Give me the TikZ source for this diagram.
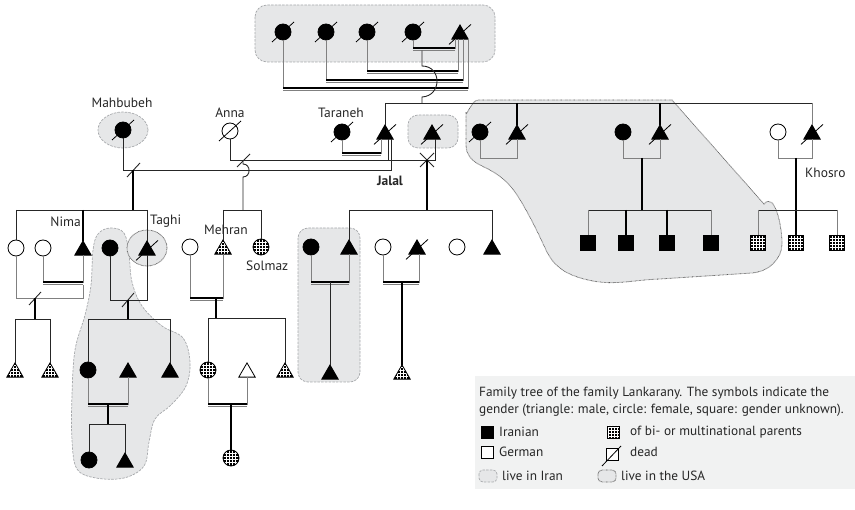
\documentclass[tikz,border=0pt]{standalone}
\usepackage{fontspec}
\setmainfont{PT Sans}
\usetikzlibrary{shapes.geometric,calc}
\definecolor{bgfill}{HTML}{E6E7E8}
\definecolor{bord}{HTML}{A7A9AC}
\definecolor{legbg}{HTML}{F1F2F2}
\begin{document}
\begin{tikzpicture}[x=1pt,y=-1pt,
  person/.style={draw=black,line width=0.8pt,inner sep=0pt,outer sep=0pt},
  fem/.style={person,circle,minimum size=16pt},
  mal/.style={person,regular polygon,regular polygon sides=3,minimum size=19pt,yshift=-2.4pt},
  unk/.style={person,rectangle,minimum size=15pt},
  blk/.style={fill=black},
  wht/.style={fill=white},
  mix/.style={fill=black,path picture={\foreach \d in {-4.8,-1.6,1.6,4.8}{
      \draw[white,line width=0.9pt] ($(path picture bounding box.center)+(\d,-12)$) -- ++(0,24);
      \draw[white,line width=0.9pt] ($(path picture bounding box.center)+(-12,\d)$) -- ++(24,0);}}},
  ln/.style={line width=0.9pt,draw=black!85},
  thk/.style={line width=1.8pt,draw=black},
  gln/.style={line width=0.9pt,draw=black!50},
  iran/.style={fill=bgfill,draw=bord,dash pattern=on 2.5pt off 1.2pt,line width=0.7pt},
  usa/.style={fill=bgfill,draw=black!65,dash pattern=on 0.6pt off 0.7pt,line width=0.8pt},
  lbl/.style={font=\fontsize{13.5}{15}\selectfont,inner sep=0pt,text=black!85},
  legtxt/.style={font=\fontsize{13.3}{15}\selectfont,inner sep=0pt,anchor=west,text=black!85},
]
\useasboundingbox (0,0) rectangle (855,510);
\newcommand\deadmark[1]{\draw[line width=0.8pt] ($(#1.center)+(-11,10)$) -- ($(#1.center)+(11,-10)$);}
\newcommand\cpl[5]{% A B y xA xB : double marriage line
  \draw[gln] (#4,0 |- #1.south) -- (#4,#3) -- (#5,#3) -- (#5,0 |- #2.south);
  \draw[thk] (#4,#3) -- (#5,#3);
  \draw[gln] (#4,#3+2.6) -- (#5,#3+2.6);}
\newcommand\scpl[5]{%
  \draw[gln] (#4,0 |- #1.south) -- (#4,#3) -- (#5,#3) -- (#5,0 |- #2.south);}

% ---------- background regions ----------
\draw[iran,rounded corners=12pt] (255,5) rectangle (495,62);
\draw[iran] (123,130) ellipse [x radius=25,y radius=18];
\draw[iran,rounded corners=10pt] (408,115) rectangle (458,148);
\draw[iran,rounded corners=10pt] (298,228) rectangle (360,382);
\draw[iran] plot[smooth cycle,tension=0.6] coordinates {(110,228) (124,233) (129,255) (132,282) (142,306) (162,326) (183,338) (190,362) (186,386) (171,405) (155,419) (149,442) (144,466) (124,478) (96,478) (77,469) (72,440) (72,395) (75,350) (85,315) (91,285) (93,250) (98,234)};
\draw[usa] (478,100) -- (672,100) -- (764,204) to[out=50,in=90] (782,243) to[out=-90,in=5] (752,273) -- (660,279) to[out=182,in=-15] (584,279) to[out=165,in=-65] (546,250) to[out=115,in=-60] (522,203) to[out=120,in=-25] (482,166) to[out=155,in=-90] (466,145) -- (466,112) to[out=-90,in=180] (478,100) -- cycle;
\draw[usa] (147,248) ellipse [x radius=20,y radius=18];

% ---------- persons ----------
\node[fem,blk] (g1) at (283,32) {};
\node[fem,blk] (g2) at (326,32) {};
\node[fem,blk] (g3) at (367,32) {};
\node[fem,blk] (g4) at (413,32) {};
\node[mal,blk] (G) at (460,32) {};

\node[fem,blk] (mah) at (123,130) {};
\node[fem,wht] (anna) at (230,131) {};
\node[fem,blk] (tar) at (342,132) {};
\node[mal,blk] (tm) at (385,132) {};
\node[mal,blk] (jal) at (432,132) {};
\node[fem,blk] (w1) at (480,132) {};
\node[mal,blk] (r1) at (517,132) {};
\node[fem,blk] (w2) at (623,132) {};
\node[mal,blk] (r2) at (660,132) {};
\node[fem,wht] (w3) at (778,132) {};
\node[mal,blk] (r3) at (812,132) {};

\node[fem,wht] (c1) at (16,248) {};
\node[fem,wht] (c2) at (43,248) {};
\node[mal,blk] (nima) at (83,248) {};
\node[fem,blk] (b1) at (110,248) {};
\node[mal,blk] (taghi) at (147,248) {};
\node[fem,wht] (f1) at (190,247) {};
\node[mal,mix] (mehran) at (223,247) {};
\node[fem,mix] (solmaz) at (261,247) {};
\node[fem,blk] (k1) at (311,247) {};
\node[mal,blk] (k2) at (349,247) {};
\node[fem,wht] (k3) at (383,247) {};
\node[mal,blk] (k4) at (417,247) {};
\node[fem,wht] (k5) at (457,247) {};
\node[mal,blk] (k6) at (492,247) {};
\node[unk,blk] (s1) at (588,243) {};
\node[unk,blk] (s2) at (626,243) {};
\node[unk,blk] (s3) at (667,243) {};
\node[unk,blk] (s4) at (711,243) {};
\node[unk,mix] (m1) at (758,243) {};
\node[unk,mix] (m2) at (796,243) {};
\node[unk,mix] (m3) at (837,243) {};

\node[mal,mix] (n1) at (15,370) {};
\node[mal,mix] (n2) at (50,370) {};
\node[fem,blk] (d1) at (88,370) {};
\node[mal,blk] (d2) at (128,370) {};
\node[mal,blk] (d3) at (170,370) {};
\node[fem,mix] (h1) at (208,370) {};
\node[mal,wht] (h2) at (247,370) {};
\node[mal,mix] (h3) at (285,370) {};
\node[mal,blk] (k7) at (330,372) {};
\node[mal,mix] (k8) at (402,372) {};
\node[fem,blk] (e1) at (89,460) {};
\node[mal,blk] (e2) at (125,460) {};
\node[fem,mix] (h4) at (231,458) {};

\foreach \p in {g1,g2,g3,g4,G,mah,anna,tar,tm,jal,w1,r1,r2,r3,taghi,k4} {\deadmark{\p}}

% ---------- labels ----------
\node[lbl] (lmah) at (122,103) {Mahbubeh};
\node[lbl] (lanna) at (230,113) {Anna};
\node[lbl] (ltar) at (341,113) {Taraneh};
\node[lbl,font=\fontsize{13.5}{15}\selectfont\bfseries] (ljal) at (390,181) {Jalal};
\node[lbl,anchor=west] (lkho) at (805,173) {Khosro};
\node[lbl,anchor=east] (lnima) at (81,222) {Nima};
\node[lbl,anchor=west] (ltaghi) at (150,221) {Taghi};
\node[lbl] (lmeh) at (226,230) {Mehran};
\node[lbl,anchor=west] (lsol) at (246,266) {Solmaz};

% ---------- connectors: top generation ----------
\cpl{g4}{G}{48}{413}{455}
\cpl{g3}{G}{71}{367}{458}
\cpl{g2}{G}{80}{326}{463}
\cpl{g1}{G}{88}{283}{468}
\draw[ln] (422,50.6) -- (422,66) .. controls (442,66) and (442,96) .. (422,97) -- (422,103);
\draw[ln] (385,103) -- (812,103);
\draw[ln] (385,103) -- (tm.north);
\draw[thk] (517,103) -- (r1.north);
\draw[thk] (660,103) -- (r2.north);
\draw[gln] (812,103) -- (r3.north);

% ---------- second generation marriages ----------
\cpl{tar}{tm}{153}{342}{381}
\draw[ln] (anna.south) -- (230,160) -- (435,160) -- (435,0 |- jal.south);
\draw[ln] (388,0 |- tm.south) -- (388,160);
\draw[ln] (mah.south) -- (123,170) -- (391,170) -- (391,0 |- tm.south);
\draw[ln] (127,177) -- (140,163);
\draw[ln] (237,167) -- (250,154);
\draw[ln] (420,153) -- (434,167) (420,167) -- (434,153);
\scpl{w1}{r1}{158}{480}{517}
\scpl{w2}{r2}{158}{623}{660}
\scpl{w3}{r3}{158}{778}{812}

% ---------- descent lines ----------
\draw[thk] (133,170) -- (133,210);
\draw[ln] (243,161) -- (243,164) to[out=0,in=0,looseness=1.6] (243,177) -- (243,210);
\draw[thk] (427,160) -- (427,210);
\draw[thk] (642,158) -- (642,210);
\draw[thk] (796,158) -- (m2.north);

% Mahbubeh's children
\draw[ln] (16,210) -- (147,210);
\draw[ln] (16,210) -- (c1.north);
\draw[thk] (83,210) -- (nima.north);
\draw[ln] (147,210) -- (taghi.north);
\cpl{c2}{nima}{282}{43}{83}
\draw[gln] (c1.south) -- (16,298) -- (83,298) -- (83,285);
\draw[ln] (29,305) -- (41,292);
\draw[thk] (35,298) -- (35,319);
\draw[ln] (15,319) -- (50,319);
\draw[ln] (15,319) -- (n1.north);
\draw[ln] (50,319) -- (n2.north);
\draw[ln] (b1.south) -- (110,300) -- (147,300) -- (147,0 |- taghi.south);
\draw[ln] (122,307) -- (134,293);
\draw[thk] (128,300) -- (128,319);
\draw[ln] (88,319) -- (170,319);
\draw[ln] (88,319) -- (d1.north);
\draw[ln] (170,319) -- (d3.north);
\cpl{d1}{d2}{404}{88}{128}
\draw[thk] (108,404) -- (108,424);
\draw[ln] (89,424) -- (125,424);
\draw[ln] (89,424) -- (e1.north);
\draw[ln] (125,424) -- (e2.north);

% Anna's children
\draw[ln] (223,210) -- (261,210);
\draw[ln] (223,210) -- (mehran.north);
\draw[ln] (261,210) -- (solmaz.north);
\cpl{f1}{mehran}{298}{190}{223}
\draw[thk] (216,298) -- (216,318);
\draw[ln] (208,318) -- (285,318);
\draw[ln] (208,318) -- (h1.north);
\draw[ln] (285,318) -- (h3.north);
\cpl{h1}{h2}{404}{208}{247}
\draw[thk] (231,404) -- (h4.north);

% Jalal's children
\draw[ln] (349,210) -- (492,210);
\draw[ln] (349,210) -- (k2.north);
\draw[ln] (492,210) -- (k6.north);
\cpl{k1}{k2}{282}{311}{349}
\draw[ln] (330,282) -- (k7.north);
\cpl{k3}{k4}{282}{383}{419}
\draw[thk] (402,282) -- (k8.north);

% right families
\draw[ln] (588,210) -- (711,210);
\draw[gln] (588,210) -- (s1.north);
\draw[thk] (626,210) -- (s2.north);
\draw[thk] (667,210) -- (s3.north);
\draw[gln] (711,210) -- (s4.north);
\draw[ln] (758,210) -- (837,210);
\draw[gln] (758,210) -- (m1.north);
\draw[gln] (837,210) -- (m3.north);

% ---------- legend ----------
\fill[legbg] (475,376) rectangle (855,489);
\node[legtxt] (t1) at (479,393) {Family tree of the family Lankarany. The symbols indicate the};
\node[legtxt] (t2) at (479,410) {gender (triangle: male, circle: female, square: gender unknown).};
\node[person,rectangle,minimum size=12pt,blk] (lirn) at (487,432) {};
\node[legtxt] (tirn) at (499,432) {Iranian};
\node[person,rectangle,minimum size=12pt,wht] (lger) at (487,452) {};
\node[legtxt] (tger) at (499,452) {German};
\node[person,rectangle,minimum size=12pt,mix] (lmix) at (613,432) {};
\node[legtxt] (tmix) at (630,432) {of bi- or multinational parents};
\node[person,rectangle,minimum size=12pt,wht] (ldead) at (612,454) {};
\draw[line width=0.8pt] ($(ldead.center)+(-10,12)$) -- ($(ldead.center)+(9,-8)$);
\node[legtxt] (tdead) at (630,452) {dead};
\draw[iran,rounded corners=4pt] (479,470) rectangle (497,482); \node[inner sep=0pt] (liran) at (488,476) {};
\node[legtxt] (tiran) at (502,476) {live in Iran};
\draw[usa,rounded corners=4pt] (598,470) rectangle (616,482); \node[inner sep=0pt] (lusa) at (607,476) {};
\node[legtxt] (tusa) at (621,476) {live in the USA};
\end{tikzpicture}
\end{document}
